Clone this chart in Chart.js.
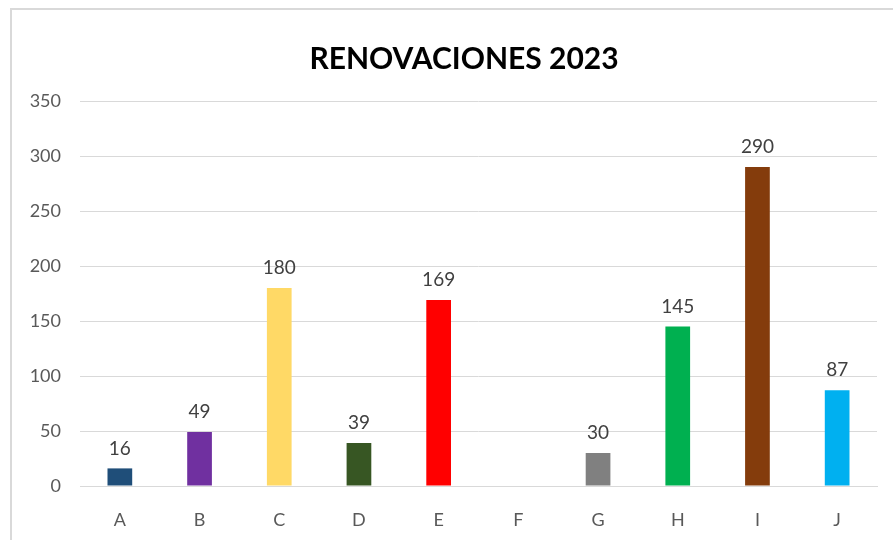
<!DOCTYPE html>
<html>
<head>
<meta charset="utf-8">
<script src="https://cdn.jsdelivr.net/npm/chart.js@4/dist/chart.umd.min.js"></script>
<style>
  html, body { margin: 0; padding: 0; background: #fff; }
  #wrap { position: relative; width: 893px; height: 540px; }
</style>
</head>
<body>
<div id="wrap"><canvas id="renovChart" width="893" height="540"></canvas></div>
<script>
// datos del gráfico
const categorias = ['A', 'B', 'C', 'D', 'E', 'F', 'G', 'H', 'I', 'J'];
const valores = [16, 49, 180, 39, 169, null, 30, 145, 290, 87];
const colores = ['#1F4E79', '#7030A0', '#FFD966', '#375623', '#FF0000', '#A5A5A5', '#808080', '#00B050', '#843C0C', '#00B0F0'];
const ticksY = [0, 50, 100, 150, 200, 250, 300, 350];
const titulo = 'RENOVACIONES 2023';

const fuente = 'Lato, "Open Sans", sans-serif';

// marco gris y título (el título va algo a la derecha del centro, como en el original)
const marco = {
    id: 'marco',
    beforeDraw(chart) {
        const c = chart.ctx;
        c.save();
        c.strokeStyle = '#d9d9d9';
        c.lineWidth = 2;
        c.strokeRect(11, 9, 1000, 1000);
        c.fillStyle = '#000';
        c.font = 'bold 30px ' + fuente;
        c.textAlign = 'center';
        c.textBaseline = 'middle';
        c.fillText(titulo, 464, 59);
        c.restore();
    }
};

// etiquetas de valor encima de las barras
const etiquetas = {
    id: 'etiquetas',
    afterDatasetsDraw(chart) {
        const c = chart.ctx;
        const meta = chart.getDatasetMeta(0);
        c.save();
        c.font = '19px ' + fuente;
        c.fillStyle = '#404040';
        c.textAlign = 'center';
        c.textBaseline = 'middle';
        meta.data.forEach((bar, i) => {
            const v = valores[i];
            if (v === null || v === undefined) return;
            c.fillText(String(v), bar.x, bar.y - 20);
        });
        c.restore();
    }
};

new Chart(document.getElementById('renovChart'), {
    type: 'bar',
    data: {
        labels: categorias,
        datasets: [{
            data: valores,
            backgroundColor: colores,
            borderWidth: 0,
            barPercentage: 0.62,
            categoryPercentage: 0.5
        }]
    },
    options: {
        responsive: false,
        animation: false,
        layout: { padding: { left: 0, right: 16, top: 101, bottom: 0 } },
        plugins: {
            legend: { display: false },
            tooltip: { enabled: false },
            title: { display: false }
        },
        scales: {
            x: {
                grid: { display: false, drawTicks: false },
                border: { display: true, color: '#d9d9d9', width: 1 },
                ticks: { color: '#595959', font: { family: fuente, size: 18 }, padding: 23 },
                afterFit(scale) { scale.height = 54; }
            },
            y: {
                min: 0,
                max: 350,
                afterBuildTicks(scale) { scale.ticks = ticksY.map(v => ({ value: v })); },
                grid: { color: '#d9d9d9', lineWidth: 1, drawTicks: false },
                border: { display: false },
                ticks: { color: '#595959', font: { family: fuente, size: 18 }, padding: 19 },
                afterFit(scale) { scale.width = 80; }
            }
        }
    },
    plugins: [marco, etiquetas]
});
</script>
</body>
</html>
